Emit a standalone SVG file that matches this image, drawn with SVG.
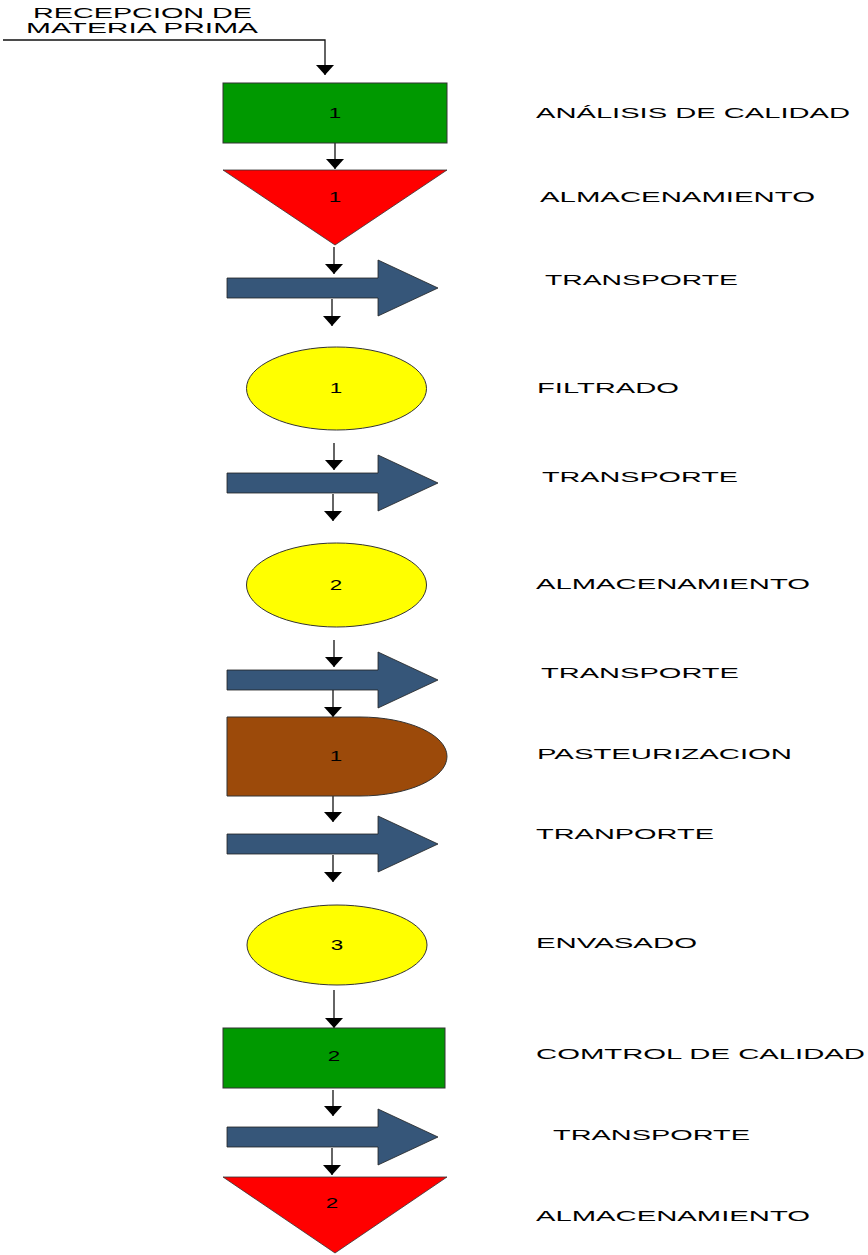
<svg xmlns="http://www.w3.org/2000/svg" width="868" height="1255" viewBox="0 0 868 1255">
  <style>
    text { font-family: "Liberation Sans", Arial, sans-serif; font-size: 14px; fill: #000; }
    .lbl { lengthAdjust: spacingAndGlyphs; }
    .num { text-anchor: middle; font-size: 14px; }
    .wire { stroke: #111; stroke-width: 1.3; fill: none; }
    .insp { fill: #009900; stroke: #333; stroke-width: 1; }
    .store { fill: #ff0000; stroke: #333; stroke-width: 0.8; }
    .move { fill: #365679; stroke: #222; stroke-width: 0.8; }
    .op { fill: #ffff00; stroke: #333; stroke-width: 1; }
    .delay { fill: #9c4a0a; stroke: #333; stroke-width: 1; }
  </style>
  <defs>
    <marker id="head" viewBox="0 -10 10 20" markerWidth="10" markerHeight="20" refX="10" refY="0" orient="auto" markerUnits="userSpaceOnUse">
      <path d="M0,-9 L10,0 L0,9 z" fill="#000"/>
    </marker>
    <path id="transport" d="M227,-10 H378 V-28 L438,0 L378,28 V10 H227 z"/>
  </defs>

  <!-- entry label -->
  <g id="entrada">
    <text x="33" y="18" textLength="219" lengthAdjust="spacingAndGlyphs">RECEPCION DE</text>
    <text x="26" y="33" textLength="232" lengthAdjust="spacingAndGlyphs">MATERIA PRIMA</text>
  </g>

  <!-- connectors -->
  <g id="connectors">
    <polyline class="wire" points="3,40 325,40 325,75" marker-end="url(#head)"/>
    <line class="wire" x1="335" y1="143" x2="335" y2="169" marker-end="url(#head)"/>
    <line class="wire" x1="334" y1="247" x2="334" y2="274" marker-end="url(#head)"/>
    <line class="wire" x1="332" y1="299" x2="332" y2="326" marker-end="url(#head)"/>
    <line class="wire" x1="334" y1="443" x2="334" y2="470" marker-end="url(#head)"/>
    <line class="wire" x1="333" y1="494" x2="333" y2="521" marker-end="url(#head)"/>
    <line class="wire" x1="334" y1="640" x2="334" y2="667" marker-end="url(#head)"/>
    <line class="wire" x1="333" y1="690" x2="333" y2="717" marker-end="url(#head)"/>
    <line class="wire" x1="333" y1="796" x2="333" y2="822" marker-end="url(#head)"/>
    <line class="wire" x1="333" y1="855" x2="333" y2="882" marker-end="url(#head)"/>
    <line class="wire" x1="334" y1="990" x2="334" y2="1028" marker-end="url(#head)"/>
    <line class="wire" x1="333" y1="1090" x2="333" y2="1116" marker-end="url(#head)"/>
    <line class="wire" x1="332" y1="1148" x2="332" y2="1175" marker-end="url(#head)"/>
  </g>

  <!-- steps -->
  <g id="analisis">
    <rect class="insp" x="223" y="83" width="224" height="60"/>
    <text class="num" transform="translate(335,118) scale(1.6,1)">1</text>
    <text x="536" y="118" textLength="314" lengthAdjust="spacingAndGlyphs">ANÁLISIS DE CALIDAD</text>
  </g>

  <g id="almacen1">
    <polygon class="store" points="223,170 447,170 335,245"/>
    <text class="num" transform="translate(335,202) scale(1.6,1)">1</text>
    <text x="540" y="202" textLength="275" lengthAdjust="spacingAndGlyphs">ALMACENAMIENTO</text>
  </g>

  <g id="transporte1">
    <use href="#transport" class="move" transform="translate(0,288)"/>
    <text x="545" y="285" textLength="193" lengthAdjust="spacingAndGlyphs">TRANSPORTE</text>
  </g>

  <g id="filtrado">
    <ellipse class="op" cx="336.5" cy="388.5" rx="90" ry="41.5"/>
    <text class="num" transform="translate(336,393) scale(1.6,1)">1</text>
    <text x="537" y="393" textLength="142" lengthAdjust="spacingAndGlyphs">FILTRADO</text>
  </g>

  <g id="transporte2">
    <use href="#transport" class="move" transform="translate(0,483)"/>
    <text x="542" y="482" textLength="196" lengthAdjust="spacingAndGlyphs">TRANSPORTE</text>
  </g>

  <g id="almacen2">
    <ellipse class="op" cx="336.5" cy="585" rx="90" ry="42"/>
    <text class="num" transform="translate(336,590) scale(1.6,1)">2</text>
    <text x="536" y="589" textLength="274" lengthAdjust="spacingAndGlyphs">ALMACENAMIENTO</text>
  </g>

  <g id="transporte3">
    <use href="#transport" class="move" transform="translate(0,680)"/>
    <text x="541" y="678" textLength="198" lengthAdjust="spacingAndGlyphs">TRANSPORTE</text>
  </g>

  <g id="pasteurizacion">
    <path class="delay" d="M227,717 H360 A87,39.5 0 0 1 360,796 H227 z"/>
    <text class="num" transform="translate(336,761) scale(1.6,1)">1</text>
    <text x="537" y="759" textLength="255" lengthAdjust="spacingAndGlyphs">PASTEURIZACION</text>
  </g>

  <g id="transporte4">
    <use href="#transport" class="move" transform="translate(0,844)"/>
    <text x="536" y="839" textLength="178" lengthAdjust="spacingAndGlyphs">TRANPORTE</text>
  </g>

  <g id="envasado">
    <ellipse class="op" cx="337" cy="945" rx="90" ry="40"/>
    <text class="num" transform="translate(337,950) scale(1.6,1)">3</text>
    <text x="536" y="948" textLength="161" lengthAdjust="spacingAndGlyphs">ENVASADO</text>
  </g>

  <g id="control">
    <rect class="insp" x="223" y="1028" width="222" height="60"/>
    <text class="num" transform="translate(334,1061) scale(1.6,1)">2</text>
    <text x="536" y="1059" textLength="329" lengthAdjust="spacingAndGlyphs">COMTROL DE CALIDAD</text>
  </g>

  <g id="transporte5">
    <use href="#transport" class="move" transform="translate(0,1137)"/>
    <text x="553" y="1140" textLength="197" lengthAdjust="spacingAndGlyphs">TRANSPORTE</text>
  </g>

  <g id="almacen3">
    <polygon class="store" points="223,1177 447,1177 335,1253"/>
    <text class="num" transform="translate(332,1208) scale(1.6,1)">2</text>
    <text x="536" y="1221" textLength="274" lengthAdjust="spacingAndGlyphs">ALMACENAMIENTO</text>
  </g>
</svg>
